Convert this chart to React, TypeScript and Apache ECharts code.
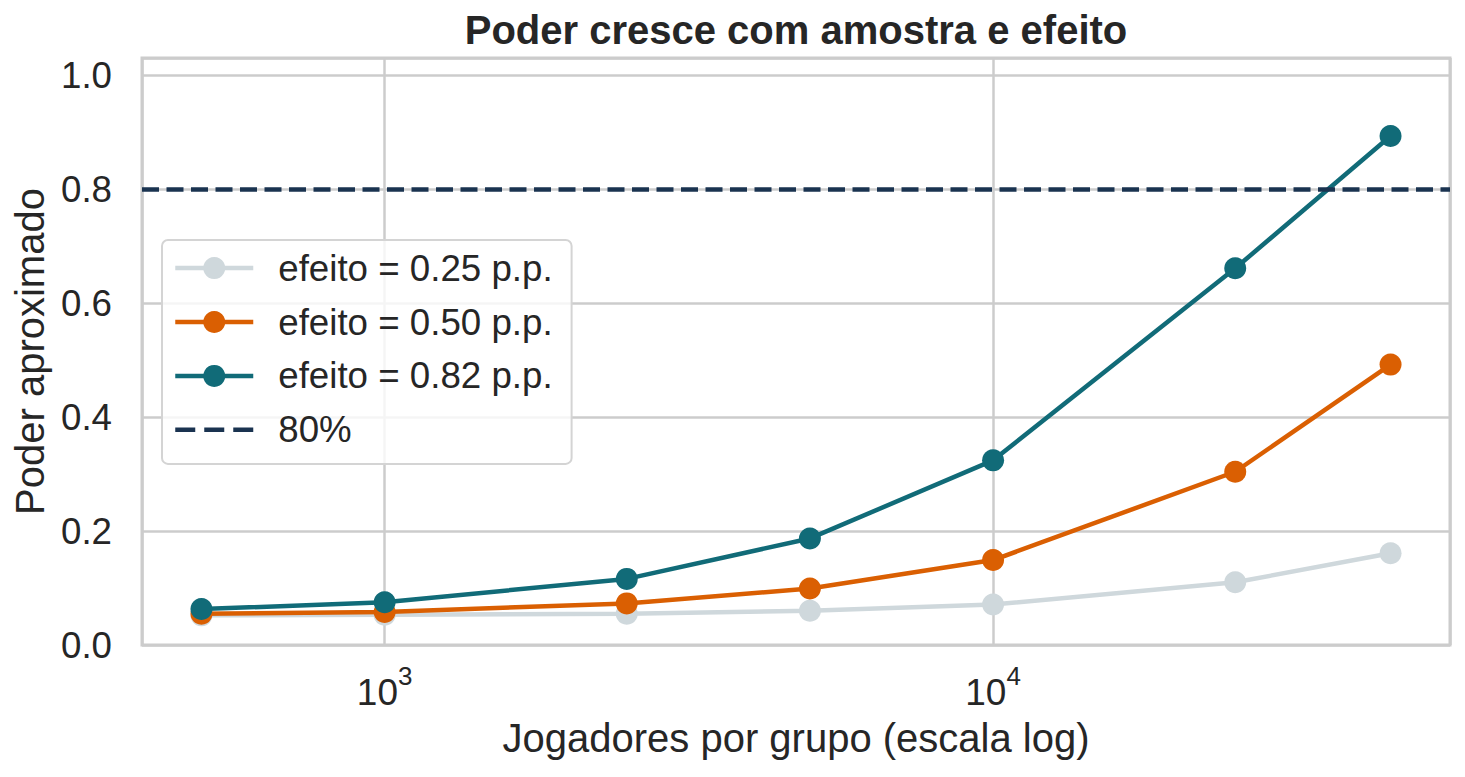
import React, { useEffect, useRef } from "react";
import * as echarts from "echarts";

// jogadores por grupo (eixo log)
const players = [500, 1000, 2500, 5000, 10000, 25000, 45000];
// poder aproximado por tamanho de efeito
const power025 = [0.052, 0.053, 0.055, 0.06, 0.071, 0.11, 0.161];
const power050 = [0.055, 0.058, 0.073, 0.099, 0.149, 0.304, 0.492];
const power082 = [0.063, 0.075, 0.116, 0.187, 0.324, 0.661, 0.893];
const seriesNames = [
  "efeito = 0.25 p.p.",
  "efeito = 0.50 p.p.",
  "efeito = 0.82 p.p.",
];
const seriesColors = ["#cfd8dc", "#da5f02", "#116b78"];
const threshold = 0.8;
const thresholdName = "80%";
const thresholdColor = "#1a3350";

const FONT = "'Liberation Sans', Arial, sans-serif";
const TEXT = "#262626";
const GRID = "#cccccc";

const App: React.FC = () => {
  const chartRef = useRef<HTMLDivElement>(null);

  useEffect(() => {
    document.body.style.margin = "0";
    if (!chartRef.current) return;
    const chart = echarts.init(chartRef.current, undefined, { renderer: "svg" });

    // margens de 5% no espaço log, como o matplotlib
    const lo = Math.log10(players[0]);
    const hi = Math.log10(players[players.length - 1]);
    const pad = (hi - lo) * 0.05;
    const xMin = Math.pow(10, lo - pad);
    const xMax = Math.pow(10, hi + pad);

    const allSeries = [power025, power050, power082];

    chart.setOption({
      animation: false,
      textStyle: { fontFamily: FONT },
      graphic: [
        {
          type: "text",
          x: 796,
          y: 30,
          style: {
            text: "Poder cresce com amostra e efeito",
            font: `bold 40px ${FONT}`,
            fill: TEXT,
            textAlign: "center",
            textVerticalAlign: "middle",
          },
        },
      ],
      grid: {
        left: 142,
        right: 15,
        top: 58,
        bottom: 132,
        show: true,
        borderColor: GRID,
        borderWidth: 3,
        backgroundColor: "#ffffff",
      },
      legend: {
        left: 162,
        top: 240,
        orient: "vertical",
        padding: [9.6, 19, 15.6, 11],
        itemWidth: 78,
        itemHeight: 27.5,
        itemGap: 16.9,
        backgroundColor: "rgba(255,255,255,0.8)",
        borderColor: "#d4d4d4",
        borderWidth: 2,
        borderRadius: 6,
        lineStyle: { width: 4.5 },
        textStyle: {
          fontSize: 36.7,
          color: TEXT,
          fontFamily: FONT,
          padding: [0, 0, 0, 20],
        },
        data: [
          ...seriesNames,
          {
            name: thresholdName,
            icon: "path://M0,0h20v4.5h-20z M29,0h20v4.5h-20z M58,0h20v4.5h-20z",
          },
        ],
      },
      xAxis: {
        type: "log",
        logBase: 10,
        min: xMin,
        max: xMax,
        axisLine: { show: false },
        axisTick: { show: false },
        splitLine: { show: true, lineStyle: { color: GRID, width: 2.5 } },
        axisLabel: {
          show: true,
          margin: 27.5,
          color: TEXT,
          fontFamily: FONT,
          fontSize: 37,
          showMinLabel: false,
          showMaxLabel: false,
          hideOverlap: false,
          formatter: (v: number) => {
            const e = Math.log10(v);
            if (Math.abs(e - Math.round(e)) > 1e-6) return "";
            return `10{s|${Math.round(e)}}`;
          },
          rich: {
            s: {
              fontSize: 26,
              lineHeight: 40,
              padding: [0, 0, 24, 0],
              color: TEXT,
              fontFamily: FONT,
              verticalAlign: "bottom",
            },
          },
        },
        name: "Jogadores por grupo (escala log)",
        nameLocation: "middle",
        nameGap: 72.5,
        nameTextStyle: { fontSize: 40, color: TEXT, fontFamily: FONT },
      },
      yAxis: {
        type: "value",
        min: 0,
        max: 1.03,
        interval: 0.2,
        axisLine: { show: false },
        axisTick: { show: false },
        splitLine: { show: true, lineStyle: { color: GRID, width: 2.5 } },
        axisLabel: {
          margin: 30,
          fontSize: 36.7,
          color: TEXT,
          fontFamily: FONT,
          showMaxLabel: false,
          formatter: (v: number) => v.toFixed(1),
        },
        name: "Poder aproximado",
        nameLocation: "middle",
        nameGap: 92.5,
        nameTextStyle: { fontSize: 40, color: TEXT, fontFamily: FONT },
      },
      series: [
        ...allSeries.map((vals, i) => ({
          name: seriesNames[i],
          type: "line",
          data: players.map((n, j) => [n, vals[j]]),
          symbol: "circle",
          symbolSize: 22,
          color: seriesColors[i],
          itemStyle: { color: seriesColors[i] },
          lineStyle: { color: seriesColors[i], width: 4.5 },
          z: 2 + i,
        })),
        {
          name: thresholdName,
          type: "line",
          data: [],
          symbol: "none",
          color: thresholdColor,
          itemStyle: { color: thresholdColor },
          lineStyle: { color: thresholdColor, width: 4.5, type: [17, 7.5] },
          z: 6,
          markLine: {
            silent: true,
            symbol: "none",
            label: { show: false },
            lineStyle: { color: thresholdColor, width: 4.5, type: [17, 7.5] },
            data: [{ yAxis: threshold }],
          },
        },
      ],
    });

    return () => {
      chart.dispose();
    };
  }, []);

  return <div ref={chartRef} style={{ width: "1465px", height: "777px" }} />;
};

export default App;
